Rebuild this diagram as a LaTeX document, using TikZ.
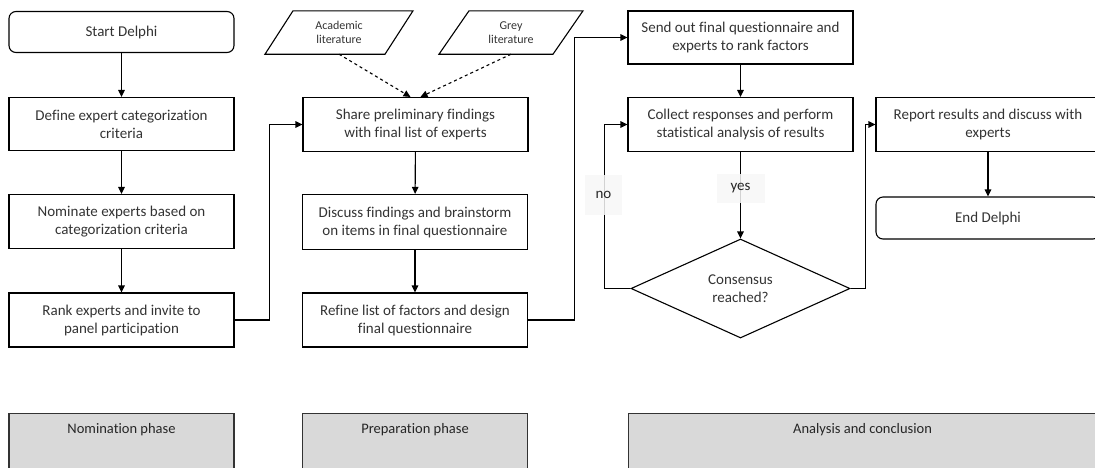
\documentclass[tikz,border=0pt]{standalone}
\usepackage{fontspec}
\setmainfont{Carlito}[Ligatures=NoCommon]
\usetikzlibrary{arrows.meta,shapes.geometric}

\tikzset{
  stepbox/.style={draw, line width=1.1pt, align=center, inner sep=2pt,
    minimum width=225pt, font=\fontsize{15}{18}\selectfont, text=black!80},
  termbox/.style={stepbox, rounded corners=7pt},
  phasebox/.style={draw=black!80, line width=1.1pt, fill=black!15, minimum width=225pt,
    minimum height=70pt, text height=15pt, text depth=45pt,
    font=\fontsize{14.5}{16}\selectfont, text=black!85},
  srcnode/.style={align=center, minimum width=90pt, minimum height=43pt, inner sep=0pt,
    font=\fontsize{12}{14}\selectfont, text=black!80},
  decision/.style={draw, diamond, line width=1.1pt, minimum width=219pt, minimum height=99pt,
    inner sep=0pt, align=center, font=\fontsize{15}{18}\selectfont, text=black!80},
  arr/.style={line width=1.1pt, -{Triangle[length=7pt,width=6.5pt]}},
  tag/.style={fill=black!3, fill opacity=0.85, text opacity=1, inner sep=0pt,
    font=\fontsize{15}{16}\selectfont, text=black!85}
}

\begin{document}
\begin{tikzpicture}[x=1pt,y=-1pt]
\useasboundingbox (0,0) rectangle (1095,467);

% ---- nomination column
\node[termbox, minimum height=41pt] (start) at (121.5,32) {Start Delphi};
\node[stepbox, minimum height=53pt] (define) at (121.5,124) {Define expert categorization\\criteria};
\node[stepbox, minimum height=54pt] (nominate) at (121.5,221.5) {Nominate experts based on\\categorization criteria};
\node[stepbox, minimum height=54pt] (rank) at (121.5,320) {Rank experts and invite to\\panel participation};

% ---- literature sources
\node[srcnode] (acad) at (339,32.5) {Academic\\literature};
\draw[line width=1.1pt] ([xshift=-74pt]acad.south) -- ([xshift=-46pt]acad.north)
  -- ([xshift=74pt]acad.north) -- ([xshift=46pt]acad.south) -- cycle;
\node[srcnode] (grey) at (511,32.5) {Grey\\literature};
\draw[line width=1.1pt] ([xshift=-72pt]grey.south) -- ([xshift=-42pt]grey.north)
  -- ([xshift=72pt]grey.north) -- ([xshift=42pt]grey.south) -- cycle;

% ---- preparation column
\node[stepbox, minimum height=54pt] (share) at (415.5,124.5) {Share preliminary findings\\with final list of experts};
\node[stepbox, minimum height=55pt] (discuss) at (415,222) {Discuss findings and brainstorm\\on items in final questionnaire};
\node[stepbox, minimum height=54pt] (refine) at (415,320) {Refine list of factors and design\\final questionnaire};

% ---- analysis column
\node[stepbox, minimum height=53pt] (send) at (740.5,37.5) {Send out final questionnaire and\\experts to rank factors};
\node[stepbox, minimum height=54pt] (collect) at (740.5,124.5) {Collect responses and perform\\statistical analysis of results};
\node[decision] (consensus) at (740.5,288.5) {Consensus\\reached?};
\node[stepbox, minimum height=54pt, minimum width=224pt] (report) at (988,124.5) {Report results and discuss with\\experts};
\node[termbox, minimum height=42pt, minimum width=224pt] (end) at (988,218) {End Delphi};

% ---- phase banners
\node[phasebox, anchor=north] (ph1) at (121.5,413) {Nomination phase};
\node[phasebox, anchor=north] (ph2) at (415,413) {Preparation phase};
\node[phasebox, anchor=north west, minimum width=480pt] (ph3) at (628,413) {\hspace*{-12pt}Analysis and conclusion};

% ---- connectors
\draw[arr] (start) -- (define);
\draw[arr] (define) -- (nominate);
\draw[arr] (nominate) -- (rank);
\draw[arr] (rank.east) -- ++(35,0) |- (share.west);
\draw[arr, dashed] (acad.south) -- ([xshift=-5pt]share.north);
\draw[arr, dashed] (grey.south) -- ([xshift=5pt]share.north);
\draw[arr] (share) -- (discuss);
\draw[arr] (discuss) -- (refine);
\draw[arr] (refine.east) -- ++(46,0) |- (send.west);
\draw[arr] (send) -- (collect);
\draw[arr] (collect) -- (consensus);
\draw[arr] (consensus.west) -- ++(-26,0) |- (collect.west);
\draw[arr] (consensus.east) -- ++(15,0) |- (report.west);
\draw[arr] (report.south) -- (end.north);

% ---- branch labels
\node[tag, minimum width=37pt, minimum height=40pt] (nolab) at (603.5,195) {no};
\node[tag, minimum width=48pt, minimum height=29pt] (yeslab) at (740.5,188) {yes};

\end{tikzpicture}
\end{document}
